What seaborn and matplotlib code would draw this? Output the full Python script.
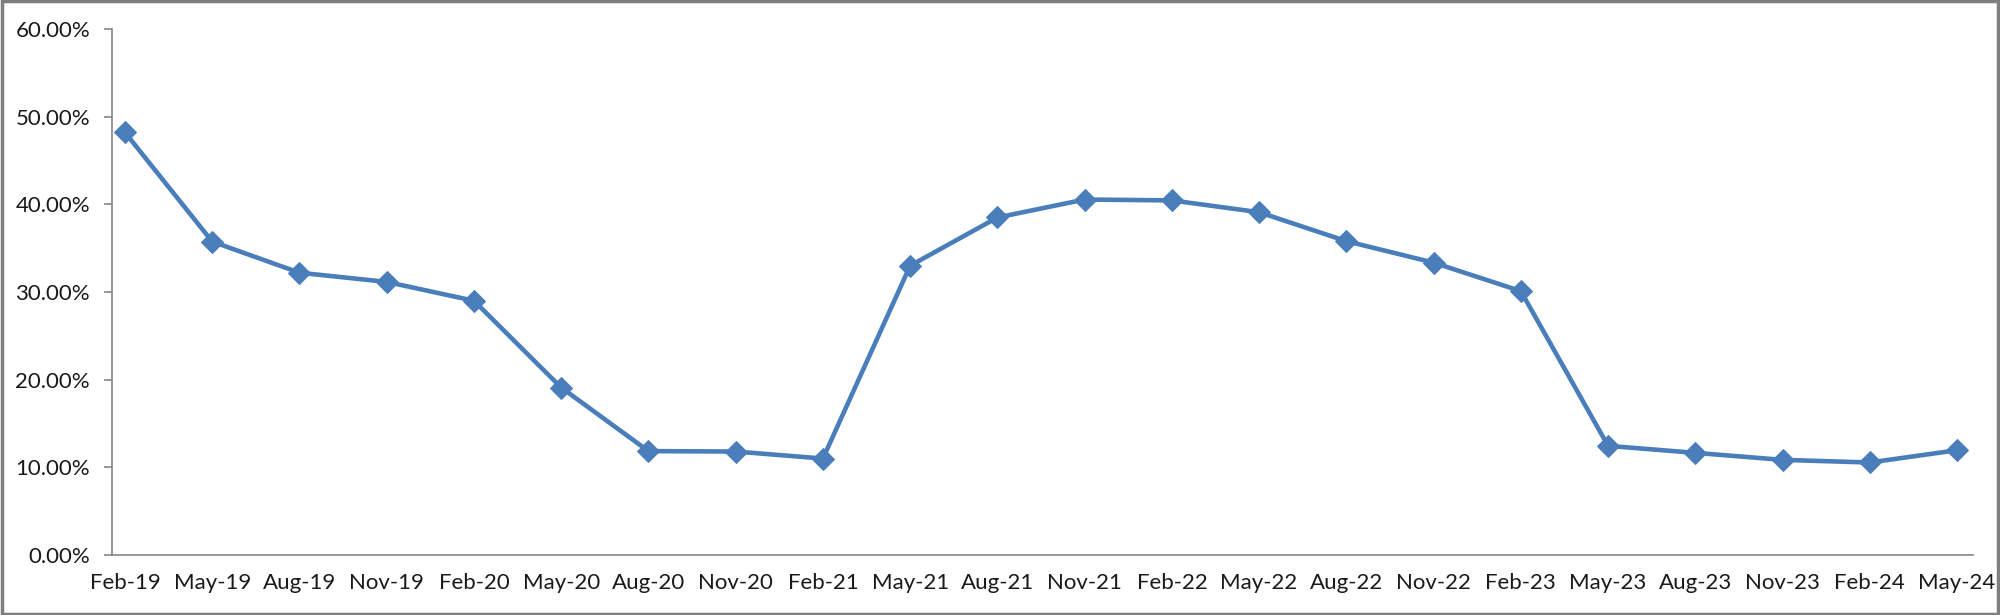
import numpy as np
import pandas as pd
import seaborn as sns
import matplotlib.pyplot as plt
from matplotlib.patches import Rectangle
from matplotlib.ticker import PercentFormatter

# Quarterly values (percent)
quarters = ["Feb-19", "May-19", "Aug-19", "Nov-19", "Feb-20", "May-20", "Aug-20",
            "Nov-20", "Feb-21", "May-21", "Aug-21", "Nov-21", "Feb-22", "May-22",
            "Aug-22", "Nov-22", "Feb-23", "May-23", "Aug-23", "Nov-23", "Feb-24",
            "May-24"]
rates = [48.2, 35.75, 32.2, 31.15, 29.0, 19.1, 11.85, 11.8, 11.0, 33.0, 38.5,
         40.55, 40.45, 39.1, 35.8, 33.35, 30.1, 12.45, 11.65, 10.85, 10.55, 11.95]
y_ticks = [0, 10, 20, 30, 40, 50, 60]

data = pd.DataFrame({"pos": np.arange(len(quarters)), "rate": rates})

sns.set_style("white")
plt.rcParams["font.family"] = ["Lato", "DejaVu Sans"]

fig = plt.figure(figsize=(20, 6.15), dpi=100)
ax = fig.add_axes([0.056, 0.0976, 0.9305, 0.8552])

line_color = "#4A7EBB"
sns.lineplot(data=data, x="pos", y="rate", ax=ax, color=line_color, linewidth=3.3,
             marker="D", markersize=11, markeredgecolor=line_color)

axis_gray = "#868686"
ax.set_xlim(-0.149, len(quarters) - 1 + 0.183)
ax.set_ylim(0, 60)
ax.set_yticks(y_ticks)
ax.yaxis.set_major_formatter(PercentFormatter(decimals=2))

# labels sit on the points, tick marks sit slightly left of them
ax.set_xticks(data["pos"])
ax.set_xticklabels(quarters)
ax.set_xticks(data["pos"] - 0.149, minor=True)
ax.tick_params(axis="x", which="major", length=0, pad=13, labelsize=16, colors="#1a1a1a")
ax.tick_params(axis="x", which="minor", length=5, width=1.2, color=axis_gray, direction="out")
ax.tick_params(axis="y", length=5.8, width=1.2, color=axis_gray, pad=10, labelsize=16,
               labelcolor="#1a1a1a", left=True)

ax.set_xlabel("")
ax.set_ylabel("")
for side in ["top", "right"]:
    ax.spines[side].set_visible(False)
for side in ["left", "bottom"]:
    ax.spines[side].set_color(axis_gray)
    ax.spines[side].set_linewidth(1.2)

# grey frame round the whole picture
fig.patches.append(Rectangle((0.001, 0.002), 0.998, 0.996, transform=fig.transFigure,
                             fill=False, edgecolor="#7f7f7f", linewidth=2.5))

fig.savefig("out.png", dpi=100)
